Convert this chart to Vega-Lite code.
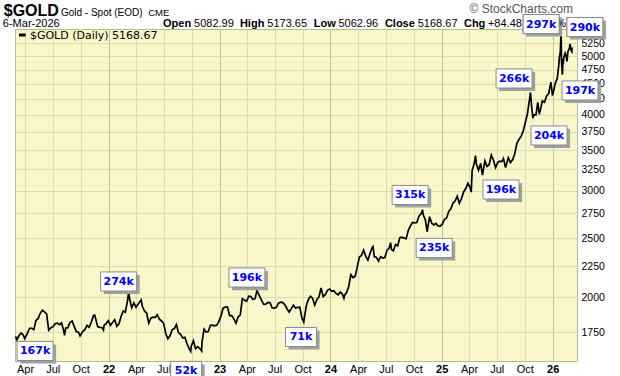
{
"$schema": "https://vega.github.io/schema/vega-lite/v6.json",
"width": 562, "height": 332,
"autosize": {"type": "none"},
"padding": {"left": 15, "top": 29, "right": 43, "bottom": 15},
"background": "white",
"config": {"view": {"fill": "#f9f6ca", "stroke": "#b9b98f"}, "font": "Liberation Sans"},
"datasets": {
"gold": [
{"date":"2021-03-01","close":1723},{"date":"2021-03-05","close":1700},{"date":"2021-03-12","close":1727},{"date":"2021-03-19","close":1745},{"date":"2021-03-26","close":1732},{"date":"2021-03-31","close":1708},{"date":"2021-04-09","close":1744},{"date":"2021-04-16","close":1777},{"date":"2021-04-23","close":1777},{"date":"2021-04-30","close":1768},{"date":"2021-05-07","close":1831},{"date":"2021-05-14","close":1843},{"date":"2021-05-21","close":1881},{"date":"2021-05-28","close":1903},{"date":"2021-06-04","close":1891},{"date":"2021-06-11","close":1877},{"date":"2021-06-18","close":1764},{"date":"2021-06-25","close":1781},{"date":"2021-07-02","close":1787},{"date":"2021-07-09","close":1808},{"date":"2021-07-16","close":1812},{"date":"2021-07-23","close":1802},{"date":"2021-07-30","close":1814},{"date":"2021-08-06","close":1763},{"date":"2021-08-09","close":1730},{"date":"2021-08-13","close":1779},{"date":"2021-08-20","close":1781},{"date":"2021-08-27","close":1817},{"date":"2021-09-03","close":1827},{"date":"2021-09-10","close":1788},{"date":"2021-09-17","close":1754},{"date":"2021-09-24","close":1751},{"date":"2021-09-29","close":1726},{"date":"2021-10-08","close":1757},{"date":"2021-10-15","close":1768},{"date":"2021-10-22","close":1796},{"date":"2021-10-29","close":1783},{"date":"2021-11-05","close":1818},{"date":"2021-11-12","close":1864},{"date":"2021-11-16","close":1868},{"date":"2021-11-19","close":1846},{"date":"2021-11-26","close":1788},{"date":"2021-12-03","close":1783},{"date":"2021-12-10","close":1782},{"date":"2021-12-15","close":1765},{"date":"2021-12-17","close":1798},{"date":"2021-12-24","close":1809},{"date":"2021-12-31","close":1829},
{"date":"2022-01-07","close":1797},{"date":"2022-01-14","close":1817},{"date":"2022-01-21","close":1835},{"date":"2022-01-28","close":1791},{"date":"2022-02-04","close":1808},{"date":"2022-02-11","close":1859},{"date":"2022-02-18","close":1898},{"date":"2022-02-25","close":1889},{"date":"2022-03-04","close":1970},{"date":"2022-03-08","close":2043},{"date":"2022-03-11","close":1988},{"date":"2022-03-18","close":1921},{"date":"2022-03-25","close":1958},{"date":"2022-04-01","close":1925},{"date":"2022-04-08","close":1947},{"date":"2022-04-18","close":1980},{"date":"2022-04-22","close":1932},{"date":"2022-04-29","close":1897},{"date":"2022-05-06","close":1883},{"date":"2022-05-13","close":1811},{"date":"2022-05-20","close":1846},{"date":"2022-05-27","close":1853},{"date":"2022-06-03","close":1850},{"date":"2022-06-10","close":1871},{"date":"2022-06-17","close":1839},{"date":"2022-06-24","close":1827},{"date":"2022-07-01","close":1811},{"date":"2022-07-08","close":1742},{"date":"2022-07-15","close":1708},{"date":"2022-07-22","close":1727},{"date":"2022-07-29","close":1766},{"date":"2022-08-05","close":1775},{"date":"2022-08-12","close":1802},{"date":"2022-08-19","close":1747},{"date":"2022-08-26","close":1737},{"date":"2022-09-02","close":1712},{"date":"2022-09-09","close":1717},{"date":"2022-09-16","close":1675},{"date":"2022-09-23","close":1644},{"date":"2022-09-28","close":1628},{"date":"2022-09-30","close":1661},{"date":"2022-10-07","close":1695},{"date":"2022-10-14","close":1644},{"date":"2022-10-21","close":1657},{"date":"2022-10-28","close":1645},{"date":"2022-11-03","close":1630},{"date":"2022-11-04","close":1681},{"date":"2022-11-11","close":1771},{"date":"2022-11-18","close":1751},{"date":"2022-11-25","close":1755},{"date":"2022-12-02","close":1797},{"date":"2022-12-09","close":1798},{"date":"2022-12-16","close":1793},{"date":"2022-12-23","close":1798},{"date":"2022-12-30","close":1824},
{"date":"2023-01-06","close":1865},{"date":"2023-01-13","close":1920},{"date":"2023-01-20","close":1926},{"date":"2023-01-27","close":1928},{"date":"2023-02-03","close":1865},{"date":"2023-02-10","close":1865},{"date":"2023-02-17","close":1842},{"date":"2023-02-24","close":1811},{"date":"2023-03-03","close":1856},{"date":"2023-03-10","close":1868},{"date":"2023-03-17","close":1989},{"date":"2023-03-24","close":1978},{"date":"2023-03-31","close":1969},{"date":"2023-04-07","close":2007},{"date":"2023-04-14","close":2004},{"date":"2023-04-21","close":1983},{"date":"2023-04-28","close":1990},{"date":"2023-05-04","close":2050},{"date":"2023-05-12","close":2011},{"date":"2023-05-19","close":1977},{"date":"2023-05-26","close":1946},{"date":"2023-06-02","close":1948},{"date":"2023-06-09","close":1961},{"date":"2023-06-16","close":1958},{"date":"2023-06-23","close":1921},{"date":"2023-06-30","close":1919},{"date":"2023-07-07","close":1925},{"date":"2023-07-14","close":1955},{"date":"2023-07-21","close":1962},{"date":"2023-07-28","close":1959},{"date":"2023-08-04","close":1943},{"date":"2023-08-11","close":1914},{"date":"2023-08-18","close":1889},{"date":"2023-08-25","close":1915},{"date":"2023-09-01","close":1940},{"date":"2023-09-08","close":1919},{"date":"2023-09-15","close":1924},{"date":"2023-09-22","close":1925},{"date":"2023-09-29","close":1848},{"date":"2023-10-05","close":1820},{"date":"2023-10-13","close":1932},{"date":"2023-10-20","close":1981},{"date":"2023-10-27","close":2006},{"date":"2023-11-03","close":1992},{"date":"2023-11-10","close":1940},{"date":"2023-11-17","close":1981},{"date":"2023-11-24","close":2002},{"date":"2023-12-01","close":2072},{"date":"2023-12-08","close":2004},{"date":"2023-12-15","close":2019},{"date":"2023-12-22","close":2053},{"date":"2023-12-29","close":2063},
{"date":"2024-01-05","close":2045},{"date":"2024-01-12","close":2049},{"date":"2024-01-19","close":2029},{"date":"2024-01-26","close":2018},{"date":"2024-02-02","close":2039},{"date":"2024-02-09","close":2024},{"date":"2024-02-14","close":1992},{"date":"2024-02-16","close":2013},{"date":"2024-02-23","close":2035},{"date":"2024-03-01","close":2083},{"date":"2024-03-08","close":2179},{"date":"2024-03-15","close":2155},{"date":"2024-03-22","close":2165},{"date":"2024-03-28","close":2230},{"date":"2024-04-05","close":2330},{"date":"2024-04-12","close":2344},{"date":"2024-04-19","close":2391},{"date":"2024-04-26","close":2337},{"date":"2024-05-03","close":2302},{"date":"2024-05-10","close":2360},{"date":"2024-05-17","close":2415},{"date":"2024-05-20","close":2425},{"date":"2024-05-24","close":2334},{"date":"2024-05-31","close":2327},{"date":"2024-06-07","close":2294},{"date":"2024-06-14","close":2333},{"date":"2024-06-21","close":2321},{"date":"2024-06-28","close":2326},{"date":"2024-07-05","close":2392},{"date":"2024-07-12","close":2411},{"date":"2024-07-17","close":2460},{"date":"2024-07-19","close":2400},{"date":"2024-07-26","close":2386},{"date":"2024-08-02","close":2443},{"date":"2024-08-09","close":2431},{"date":"2024-08-16","close":2507},{"date":"2024-08-23","close":2512},{"date":"2024-08-30","close":2503},{"date":"2024-09-06","close":2497},{"date":"2024-09-13","close":2578},{"date":"2024-09-20","close":2622},{"date":"2024-09-27","close":2658},{"date":"2024-10-04","close":2653},{"date":"2024-10-11","close":2657},{"date":"2024-10-18","close":2721},{"date":"2024-10-25","close":2747},{"date":"2024-10-30","close":2787},{"date":"2024-11-01","close":2736},{"date":"2024-11-08","close":2685},{"date":"2024-11-14","close":2565},{"date":"2024-11-22","close":2716},{"date":"2024-11-29","close":2650},{"date":"2024-12-06","close":2633},{"date":"2024-12-13","close":2648},{"date":"2024-12-20","close":2622},{"date":"2024-12-27","close":2621},
{"date":"2025-01-03","close":2640},{"date":"2025-01-10","close":2690},{"date":"2025-01-17","close":2703},{"date":"2025-01-24","close":2770},{"date":"2025-01-31","close":2798},{"date":"2025-02-07","close":2861},{"date":"2025-02-14","close":2883},{"date":"2025-02-21","close":2936},{"date":"2025-02-28","close":2858},{"date":"2025-03-07","close":2910},{"date":"2025-03-14","close":2984},{"date":"2025-03-21","close":3023},{"date":"2025-03-28","close":3085},{"date":"2025-04-04","close":3037},{"date":"2025-04-08","close":2982},{"date":"2025-04-11","close":3237},{"date":"2025-04-18","close":3327},{"date":"2025-04-22","close":3425},{"date":"2025-04-25","close":3319},{"date":"2025-05-02","close":3240},{"date":"2025-05-09","close":3325},{"date":"2025-05-15","close":3180},{"date":"2025-05-23","close":3357},{"date":"2025-05-30","close":3289},{"date":"2025-06-06","close":3310},{"date":"2025-06-13","close":3433},{"date":"2025-06-20","close":3368},{"date":"2025-06-27","close":3274},{"date":"2025-07-04","close":3337},{"date":"2025-07-11","close":3355},{"date":"2025-07-18","close":3350},{"date":"2025-07-23","close":3390},{"date":"2025-07-30","close":3275},{"date":"2025-08-08","close":3398},{"date":"2025-08-15","close":3336},{"date":"2025-08-22","close":3371},{"date":"2025-08-29","close":3448},{"date":"2025-09-05","close":3587},{"date":"2025-09-12","close":3643},{"date":"2025-09-19","close":3685},{"date":"2025-09-26","close":3760},{"date":"2025-10-03","close":3886},{"date":"2025-10-10","close":4018},{"date":"2025-10-17","close":4252},{"date":"2025-10-20","close":4356},{"date":"2025-10-24","close":4113},{"date":"2025-10-28","close":3950},{"date":"2025-10-31","close":4002},{"date":"2025-11-07","close":4000},{"date":"2025-11-13","close":4195},{"date":"2025-11-18","close":4010},{"date":"2025-11-21","close":4065},{"date":"2025-11-28","close":4218},{"date":"2025-12-05","close":4198},{"date":"2025-12-12","close":4300},{"date":"2025-12-19","close":4339},{"date":"2025-12-26","close":4530},{"date":"2025-12-31","close":4320},
{"date":"2026-01-02","close":4330},{"date":"2026-01-09","close":4500},{"date":"2026-01-16","close":4595},{"date":"2026-01-21","close":4830},{"date":"2026-01-23","close":4980},{"date":"2026-01-26","close":5080},{"date":"2026-01-28","close":5400},{"date":"2026-01-29","close":5380},{"date":"2026-01-30","close":4890},{"date":"2026-02-02","close":4660},{"date":"2026-02-04","close":4950},{"date":"2026-02-05","close":4860},{"date":"2026-02-06","close":4960},{"date":"2026-02-11","close":5060},{"date":"2026-02-13","close":5030},{"date":"2026-02-17","close":4900},{"date":"2026-02-20","close":5080},{"date":"2026-02-25","close":5160},{"date":"2026-02-27","close":5240},{"date":"2026-03-03","close":5100},{"date":"2026-03-05","close":5084},{"date":"2026-03-06","close":5168.67}
],
"vol": [
{"label":"167k","date":"2021-05-04","price":1630},
{"label":"274k","date":"2022-02-03","price":2123},
{"label":"52k","date":"2022-09-13","price":1511},
{"label":"196k","date":"2023-04-01","price":2155},
{"label":"71k","date":"2023-09-26","price":1719},
{"label":"315k","date":"2024-09-19","price":2950},
{"label":"235k","date":"2024-12-07","price":2412},
{"label":"196k","date":"2025-07-15","price":3012},
{"label":"266k","date":"2025-08-27","price":4594},
{"label":"204k","date":"2025-12-20","price":3699},
{"label":"297k","date":"2025-11-24","price":5651},
{"label":"290k","date":"2026-04-17","price":5587},
{"label":"197k","date":"2026-04-01","price":4389}
]
},
"layer": [
{"data": {"name": "gold"},
 "mark": {"type": "line", "color": "black", "strokeWidth": 1.7},
 "encoding": {
  "x": {"field": "date", "type": "temporal", "title": null,
   "scale": {"type": "utc", "domain": [{"year": 2021, "month": 2, "date": 27, "utc": true}, {"year": 2026, "month": 3, "date": 22, "utc": true}]},
   "axis": {"tickCount": {"interval": "month", "step": 3},
    "labelExpr": "utcmonth(datum.value) == 0 ? utcFormat(datum.value, '%y') : utcFormat(datum.value, '%b')",
    "labelFontWeight": {"condition": {"test": "utcmonth(datum.value) == 0", "value": "bold"}, "value": "normal"},
    "gridColor": {"condition": {"test": "utcmonth(datum.value) == 0", "value": "#c2c296"}, "value": "#dcdcb2"},
    "grid": true, "ticks": false, "domain": false, "labelFont": "Liberation Sans", "labelFontSize": 11,
    "labelColor": "black", "labelPadding": 2, "labelOverlap": false, "labelFlush": false}},
  "y": {"field": "close", "type": "quantitative", "title": null,
   "scale": {"type": "log", "domain": [1569, 5545], "nice": false},
   "axis": {"orient": "right", "values": [1750, 2000, 2250, 2500, 2750, 3000, 3250, 3500, 3750, 4000, 4250, 4500, 4750, 5000, 5250],
    "format": "d", "grid": true, "gridColor": "#dcdcb2", "ticks": false, "domain": false, "labelPadding": 4,
    "labelFont": "Liberation Sans", "labelFontSize": 10.5, "labelColor": "black"}}
 }},
{"data": {"name": "vol"}, "transform": [{"filter": "length(datum.label) == 4"}],
 "mark": {"type": "point", "shape": "M-0.83,-0.36H1.17V0.7H-0.83Z", "size": 1296, "filled": true, "fill": "#a0a0a0", "strokeWidth": 0, "opacity": 1},
 "encoding": {"x": {"field": "date", "type": "temporal", "title": null}, "y": {"field": "price", "type": "quantitative", "title": null}}},
{"data": {"name": "vol"}, "transform": [{"filter": "length(datum.label) == 3"}],
 "mark": {"type": "point", "shape": "M-0.69,-0.36H1.03V0.7H-0.69Z", "size": 1296, "filled": true, "fill": "#a0a0a0", "strokeWidth": 0, "opacity": 1},
 "encoding": {"x": {"field": "date", "type": "temporal", "title": null}, "y": {"field": "price", "type": "quantitative", "title": null}}},
{"data": {"name": "vol"}, "transform": [{"filter": "length(datum.label) == 4"}],
 "mark": {"type": "point", "shape": "M-1,-0.53H1V0.53H-1Z", "size": 1296, "filled": true, "fill": "white", "stroke": "#8a8a8a", "strokeWidth": 1, "opacity": 1},
 "encoding": {"x": {"field": "date", "type": "temporal", "title": null}, "y": {"field": "price", "type": "quantitative", "title": null}}},
{"data": {"name": "vol"}, "transform": [{"filter": "length(datum.label) == 3"}],
 "mark": {"type": "point", "shape": "M-0.86,-0.53H0.86V0.53H-0.86Z", "size": 1296, "filled": true, "fill": "white", "stroke": "#8a8a8a", "strokeWidth": 1, "opacity": 1},
 "encoding": {"x": {"field": "date", "type": "temporal", "title": null}, "y": {"field": "price", "type": "quantitative", "title": null}}},
{"data": {"name": "vol"},
 "mark": {"type": "text", "font": "DejaVu Sans", "fontWeight": "bold", "fontSize": 11, "fill": "#0000ff", "align": "center", "baseline": "middle", "dy": 0.5},
 "encoding": {"x": {"field": "date", "type": "temporal", "title": null}, "y": {"field": "price", "type": "quantitative", "title": null}, "text": {"field": "label"}}},
{"data": {"values": [{}]},
 "mark": {"type": "text", "text": "$GOLD", "font": "Liberation Sans", "fontWeight": "bold", "fontSize": 16, "align": "left", "baseline": "alphabetic", "fill": "black"},
 "encoding": {"x": {"datum": {"year": 2021, "month": 1, "date": 21, "utc": true}, "type": "temporal", "title": null}, "y": {"datum": 5837, "type": "quantitative", "title": null}}},
{"data": {"values": [{}]},
 "mark": {"type": "text", "text": "Gold - Spot (EOD)", "fontSize": 10, "align": "left", "baseline": "alphabetic", "fill": "black"},
 "encoding": {"x": {"datum": {"year": 2021, "month": 7, "date": 28, "utc": true}, "type": "temporal", "title": null}, "y": {"datum": 5837, "type": "quantitative", "title": null}}},
{"data": {"values": [{}]},
 "mark": {"type": "text", "text": "CME", "fontSize": 9.5, "align": "left", "baseline": "alphabetic", "fill": "black"},
 "encoding": {"x": {"datum": {"year": 2022, "month": 5, "date": 11, "utc": true}, "type": "temporal", "title": null}, "y": {"datum": 5837, "type": "quantitative", "title": null}}},
{"data": {"values": [{}]},
 "mark": {"type": "text", "text": "© StockCharts.com", "fontSize": 12, "align": "right", "baseline": "alphabetic", "fill": "#555555"},
 "encoding": {"x": {"datum": {"year": 2026, "month": 3, "date": 9, "utc": true}, "type": "temporal", "title": null}, "y": {"datum": 5893, "type": "quantitative", "title": null}}},
{"data": {"values": [{}]},
 "mark": {"type": "text", "text": "6-Mar-2026", "fontSize": 11, "align": "left", "baseline": "alphabetic", "fill": "black"},
 "encoding": {"x": {"datum": {"year": 2021, "month": 1, "date": 18, "utc": true}, "type": "temporal", "title": null}, "y": {"datum": 5587, "type": "quantitative", "title": null}}},
{"data": {"values": [{}]},
 "mark": {"type": "text", "text": "Open", "fontSize": 11, "fontWeight": "bold", "align": "left", "baseline": "alphabetic", "fill": "black"},
 "encoding": {"x": {"datum": {"year": 2022, "month": 6, "date": 29, "utc": true}, "type": "temporal", "title": null}, "y": {"datum": 5587, "type": "quantitative", "title": null}}},
{"data": {"values": [{}]},
 "mark": {"type": "text", "text": "5082.99", "fontSize": 11, "align": "left", "baseline": "alphabetic", "fill": "black"},
 "encoding": {"x": {"datum": {"year": 2022, "month": 10, "date": 9, "utc": true}, "type": "temporal", "title": null}, "y": {"datum": 5587, "type": "quantitative", "title": null}}},
{"data": {"values": [{}]},
 "mark": {"type": "text", "text": "High", "fontSize": 11, "fontWeight": "bold", "align": "left", "baseline": "alphabetic", "fill": "black"},
 "encoding": {"x": {"datum": {"year": 2023, "month": 3, "date": 9, "utc": true}, "type": "temporal", "title": null}, "y": {"datum": 5587, "type": "quantitative", "title": null}}},
{"data": {"values": [{}]},
 "mark": {"type": "text", "text": "5173.65", "fontSize": 11, "align": "left", "baseline": "alphabetic", "fill": "black"},
 "encoding": {"x": {"datum": {"year": 2023, "month": 6, "date": 7, "utc": true}, "type": "temporal", "title": null}, "y": {"datum": 5587, "type": "quantitative", "title": null}}},
{"data": {"values": [{}]},
 "mark": {"type": "text", "text": "Low", "fontSize": 11, "fontWeight": "bold", "align": "left", "baseline": "alphabetic", "fill": "black"},
 "encoding": {"x": {"datum": {"year": 2023, "month": 11, "date": 7, "utc": true}, "type": "temporal", "title": null}, "y": {"datum": 5587, "type": "quantitative", "title": null}}},
{"data": {"values": [{}]},
 "mark": {"type": "text", "text": "5062.96", "fontSize": 11, "align": "left", "baseline": "alphabetic", "fill": "black"},
 "encoding": {"x": {"datum": {"year": 2024, "month": 1, "date": 27, "utc": true}, "type": "temporal", "title": null}, "y": {"datum": 5587, "type": "quantitative", "title": null}}},
{"data": {"values": [{}]},
 "mark": {"type": "text", "text": "Close", "fontSize": 11, "fontWeight": "bold", "align": "left", "baseline": "alphabetic", "fill": "black"},
 "encoding": {"x": {"datum": {"year": 2024, "month": 6, "date": 28, "utc": true}, "type": "temporal", "title": null}, "y": {"datum": 5587, "type": "quantitative", "title": null}}},
{"data": {"values": [{}]},
 "mark": {"type": "text", "text": "5168.67", "fontSize": 11, "align": "left", "baseline": "alphabetic", "fill": "black"},
 "encoding": {"x": {"datum": {"year": 2024, "month": 10, "date": 14, "utc": true}, "type": "temporal", "title": null}, "y": {"datum": 5587, "type": "quantitative", "title": null}}},
{"data": {"values": [{}]},
 "mark": {"type": "text", "text": "Chg", "fontSize": 11, "fontWeight": "bold", "align": "left", "baseline": "alphabetic", "fill": "black"},
 "encoding": {"x": {"datum": {"year": 2025, "month": 3, "date": 15, "utc": true}, "type": "temporal", "title": null}, "y": {"datum": 5587, "type": "quantitative", "title": null}}},
{"data": {"values": [{}]},
 "mark": {"type": "text", "text": "+84.48", "fontSize": 11, "align": "left", "baseline": "alphabetic", "fill": "black"},
 "encoding": {"x": {"datum": {"year": 2025, "month": 6, "date": 2, "utc": true}, "type": "temporal", "title": null}, "y": {"datum": 5587, "type": "quantitative", "title": null}}},
{"data": {"values": [{}]},
 "mark": {"type": "text", "text": "(+1.66%)", "fontSize": 11, "align": "left", "baseline": "alphabetic", "fill": "black"},
 "encoding": {"x": {"datum": {"year": 2025, "month": 10, "date": 1, "utc": true}, "type": "temporal", "title": null}, "y": {"datum": 5587, "type": "quantitative", "title": null}}},
{"data": {"values": [{}]},
 "mark": {"type": "rule", "color": "black", "strokeWidth": 3},
 "encoding": {"x": {"datum": {"year": 2021, "month": 3, "date": 12, "utc": true}, "type": "temporal", "title": null}, "x2": {"datum": {"year": 2021, "month": 4, "date": 3, "utc": true}}, "y": {"datum": 5419, "type": "quantitative", "title": null}}},
{"data": {"values": [{}]},
 "mark": {"type": "text", "text": "$GOLD (Daily) 5168.67", "font": "DejaVu Sans", "fontSize": 11, "align": "left", "baseline": "alphabetic", "fill": "black"},
 "encoding": {"x": {"datum": {"year": 2021, "month": 4, "date": 17, "utc": true}, "type": "temporal", "title": null}, "y": {"datum": 5338, "type": "quantitative", "title": null}}},
{"data": {"name": "vol"}, "transform": [{"filter": "datum.label == '297k' || datum.label == '290k'"}],
 "mark": {"type": "point", "shape": "M-1,-0.53H1V0.53H-1Z", "size": 1296, "filled": true, "fill": "white", "stroke": "#8a8a8a", "strokeWidth": 1, "opacity": 1},
 "encoding": {"x": {"field": "date", "type": "temporal", "title": null}, "y": {"field": "price", "type": "quantitative", "title": null}}},
{"data": {"name": "vol"}, "transform": [{"filter": "datum.label == '297k' || datum.label == '290k'"}],
 "mark": {"type": "text", "font": "DejaVu Sans", "fontWeight": "bold", "fontSize": 11, "fill": "#0000ff", "align": "center", "baseline": "middle", "dy": 0.5},
 "encoding": {"x": {"field": "date", "type": "temporal", "title": null}, "y": {"field": "price", "type": "quantitative", "title": null}, "text": {"field": "label"}}}
]
}
